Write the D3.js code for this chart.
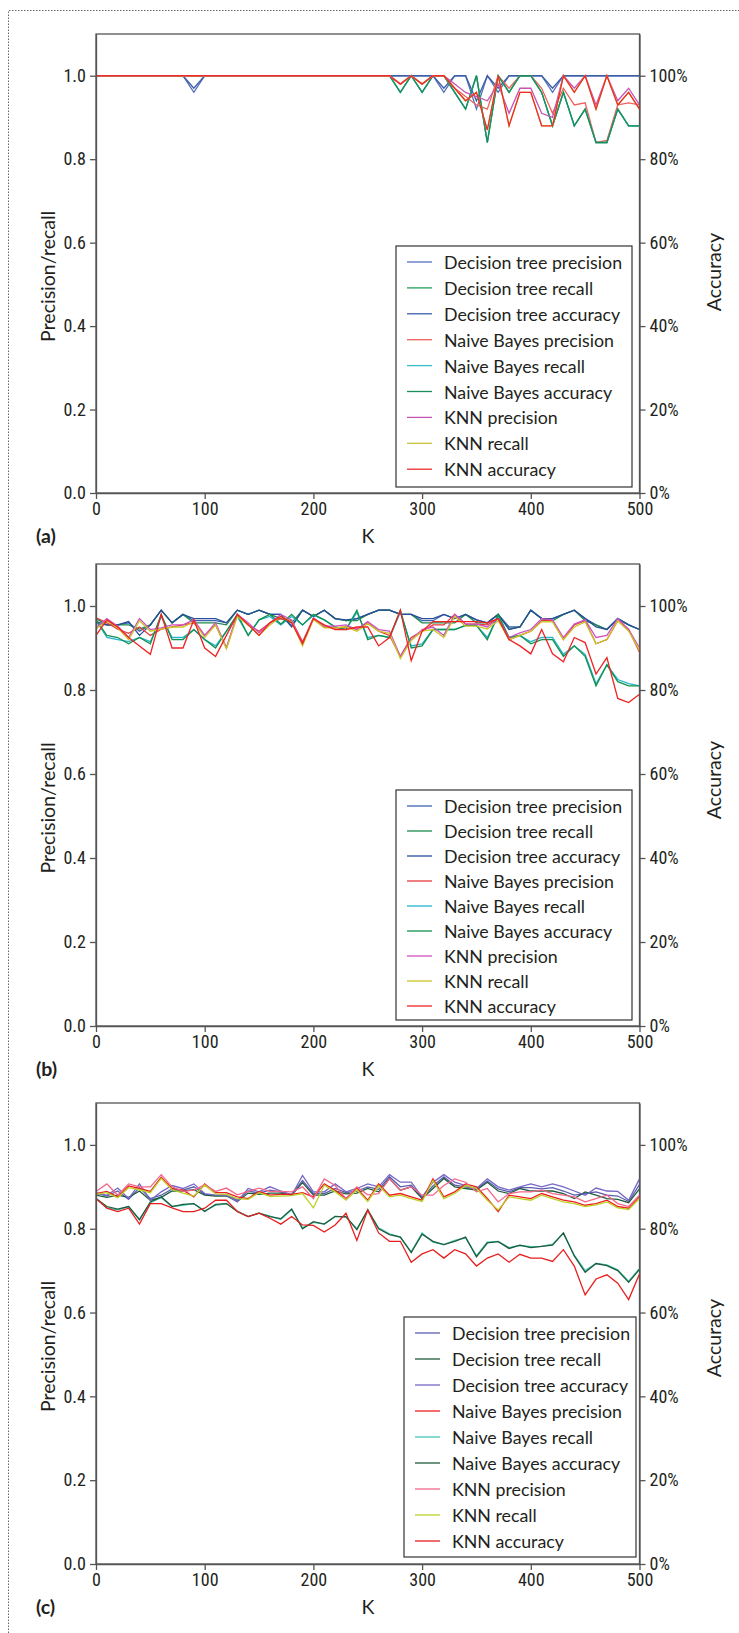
<!DOCTYPE html>
<html>
<head>
<meta charset="utf-8">
<script src="https://cdn.jsdelivr.net/npm/d3@7"></script>
<style>
  body { margin: 0; background: #fff; }
  .tick text { font-family: "Liberation Sans Narrow", "Roboto Condensed", "DejaVu Sans Condensed", sans-serif; font-size: 18px; fill: #231f20; }
  .label { font-family: Lato, "Open Sans", sans-serif; font-size: 19.5px; fill: #231f20; }
  .legend text { font-family: Lato, "Open Sans", sans-serif; font-size: 17.8px; fill: #231f20; }
</style>
</head>
<body>
<div id="chart"></div>
<script>
// K values (x axis), one point every 10
const kValues = [0, 10, 20, 30, 40, 50, 60, 70, 80, 90,
  100, 110, 120, 130, 140, 150, 160, 170, 180, 190,
  200, 210, 220, 230, 240, 250, 260, 270, 280, 290,
  300, 310, 320, 330, 340, 350, 360, 370, 380, 390,
  400, 410, 420, 430, 440, 450, 460, 470, 480, 490, 500];

const seriesNames = ["Decision tree precision", "Decision tree recall", "Decision tree accuracy",
  "Naive Bayes precision", "Naive Bayes recall", "Naive Bayes accuracy",
  "KNN precision", "KNN recall", "KNN accuracy"];

const xTicks = [0, 100, 200, 300, 400, 500];
const yTicks = [0, 0.2, 0.4, 0.6, 0.8, 1.0];

// ---- panel (a)
const aDtPrec = [1,1,1,1,1,1,1,1,1,0.96, 1,1,1,1,1,1,1,1,1,1, 1,1,1,1,1,1,1,1,1,1,
  1,1,0.96,1,1,0.92,1,0.96,1,1, 1,1,0.96,1,1,1,1,1,1,1, 1];
const aDtRec = [1,1,1,1,1,1,1,1,1,1, 1,1,1,1,1,1,1,1,1,1, 1,1,1,1,1,1,1,1,0.96,1,
  0.96,1,1,0.96,0.92,1,0.84,1,0.96,1, 1,0.96,0.88,0.96,0.88,0.92,0.84,0.84,0.92,0.88, 0.88];
const aDtAcc = [1,1,1,1,1,1,1,1,1,0.97, 1,1,1,1,1,1,1,1,1,1, 1,1,1,1,1,1,1,1,1,1,
  1,1,0.97,1,1,0.94,1,0.97,1,1, 1,1,0.97,1,1,1,1,1,1,1, 1];
const aNbPrec = [1,1,1,1,1,1,1,1,1,1, 1,1,1,1,1,1,1,1,1,1, 1,1,1,1,1,1,1,1,0.98,1,
  0.98,1,1,0.97,0.95,0.93,0.92,1,0.97,1, 1,0.97,0.91,0.97,0.93,0.935,0.84,0.845,0.93,0.935, 0.93];
const aNbRec = [1,1,1,1,1,1,1,1,1,1, 1,1,1,1,1,1,1,1,1,1, 1,1,1,1,1,1,1,1,0.96,1,
  0.96,1,1,0.96,0.92,1,0.84,1,0.96,1, 1,0.96,0.88,0.96,0.88,0.92,0.84,0.84,0.92,0.88, 0.88];
const aNbAcc = [1,1,1,1,1,1,1,1,1,1, 1,1,1,1,1,1,1,1,1,1, 1,1,1,1,1,1,1,1,0.96,1,
  0.96,1,1,0.96,0.92,1,0.84,1,0.96,1, 1,0.96,0.88,0.96,0.88,0.92,0.84,0.84,0.92,0.88, 0.88];
const aKnnPrec = [1,1,1,1,1,1,1,1,1,1, 1,1,1,1,1,1,1,1,1,1, 1,1,1,1,1,1,1,1,0.98,1,
  0.98,1,1,0.98,0.96,0.95,0.94,0.98,0.91,0.97, 0.97,0.91,0.90,1,0.97,1,0.93,1,0.94,0.97, 0.93];
const aKnnRec = [1,1,1,1,1,1,1,1,1,1, 1,1,1,1,1,1,1,1,1,1, 1,1,1,1,1,1,1,1,0.98,1,
  0.98,1,1,0.97,0.94,0.96,0.87,1,0.88,0.96, 0.96,0.88,0.88,1,0.96,1,0.92,1,0.93,0.96, 0.92];
const aKnnAcc = [1,1,1,1,1,1,1,1,1,1, 1,1,1,1,1,1,1,1,1,1, 1,1,1,1,1,1,1,1,0.98,1,
  0.98,1,1,0.97,0.94,0.96,0.87,1,0.88,0.96, 0.96,0.88,0.88,1,0.96,1,0.92,1,0.93,0.96, 0.92];

// ---- panel (b)
const bDtPrec = [0.958,0.955,0.955,0.96,0.94,0.955,0.99,0.96,0.98,0.965,
  0.965,0.965,0.96,0.99,0.98,0.99,0.98,0.98,0.953,0.99,
  0.975,0.99,0.97,0.965,0.97,0.98,0.99,0.99,0.98,0.98,
  0.965,0.965,0.98,0.97,0.98,0.967,0.96,0.98,0.95,0.95,
  0.99,0.97,0.97,0.98,0.99,0.97,0.955,0.944,0.97,0.955, 0.944];
const bDtRec = [0.97,0.955,0.955,0.955,0.945,0.955,0.99,0.96,0.98,0.96,
  0.96,0.96,0.955,0.99,0.98,0.99,0.98,0.97,0.96,0.99,
  0.975,0.99,0.97,0.965,0.965,0.98,0.99,0.99,0.98,0.98,
  0.96,0.96,0.96,0.96,0.98,0.96,0.96,0.98,0.945,0.95,
  0.99,0.97,0.965,0.98,0.99,0.965,0.955,0.944,0.97,0.955, 0.944];
const bDtAcc = [0.963,0.955,0.955,0.963,0.93,0.955,0.99,0.96,0.98,0.97,
  0.97,0.97,0.96,0.99,0.98,0.99,0.98,0.98,0.95,0.99,
  0.975,0.99,0.97,0.967,0.97,0.98,0.99,0.99,0.98,0.98,
  0.97,0.97,0.98,0.97,0.98,0.967,0.96,0.98,0.944,0.95,
  0.99,0.97,0.97,0.98,0.99,0.97,0.95,0.944,0.97,0.955, 0.944];
const bNbPrec = [0.972,0.96,0.945,0.935,0.95,0.93,0.945,0.95,0.955,0.96,
  0.93,0.955,0.90,0.98,0.955,0.94,0.96,0.97,0.965,0.915,
  0.97,0.95,0.948,0.95,0.945,0.96,0.94,0.93,0.88,0.925,
  0.94,0.955,0.955,0.98,0.957,0.957,0.955,0.97,0.92,0.93,
  0.94,0.965,0.965,0.92,0.955,0.965,0.91,0.92,0.965,0.944, 0.89];
const bNbRec = [0.967,0.925,0.92,0.915,0.925,0.915,0.975,0.925,0.925,0.944,
  0.92,0.905,0.94,0.975,0.93,0.967,0.975,0.955,0.975,0.955,
  0.978,0.967,0.95,0.944,0.985,0.925,0.93,0.925,0.985,0.905,
  0.91,0.944,0.944,0.944,0.954,0.954,0.925,0.975,0.925,0.93,
  0.915,0.925,0.925,0.885,0.905,0.885,0.815,0.86,0.825,0.815, 0.81];
const bNbAcc = [0.967,0.93,0.925,0.91,0.925,0.91,0.98,0.92,0.92,0.944,
  0.92,0.90,0.94,0.98,0.93,0.967,0.98,0.957,0.98,0.955,
  0.98,0.967,0.95,0.944,0.99,0.92,0.93,0.925,0.99,0.90,
  0.905,0.944,0.944,0.944,0.954,0.954,0.92,0.98,0.925,0.93,
  0.91,0.92,0.92,0.88,0.905,0.88,0.81,0.86,0.82,0.81, 0.81];
const bKnnPrec = [0.948,0.97,0.952,0.925,0.97,0.944,0.948,0.955,0.955,0.967,
  0.93,0.96,0.90,0.98,0.96,0.936,0.96,0.98,0.967,0.91,
  0.972,0.952,0.952,0.955,0.944,0.963,0.944,0.94,0.88,0.92,
  0.944,0.95,0.93,0.98,0.957,0.957,0.95,0.97,0.925,0.936,
  0.944,0.97,0.967,0.925,0.957,0.967,0.925,0.93,0.97,0.944, 0.90];
const bKnnRec = [0.945,0.965,0.948,0.92,0.965,0.94,0.945,0.95,0.95,0.962,
  0.925,0.955,0.898,0.975,0.955,0.93,0.955,0.975,0.962,0.905,
  0.968,0.948,0.948,0.95,0.94,0.958,0.94,0.935,0.875,0.918,
  0.94,0.944,0.925,0.975,0.952,0.952,0.945,0.965,0.92,0.93,
  0.94,0.963,0.962,0.92,0.95,0.962,0.91,0.92,0.965,0.94, 0.895];
const bKnnAcc = [0.93,0.967,0.95,0.925,0.905,0.885,0.98,0.90,0.90,0.967,
  0.90,0.88,0.93,0.98,0.955,0.93,0.96,0.975,0.96,0.91,
  0.97,0.955,0.944,0.944,0.95,0.95,0.905,0.925,0.99,0.87,
  0.94,0.963,0.963,0.963,0.963,0.963,0.96,0.97,0.92,0.905,
  0.886,0.944,0.886,0.867,0.925,0.913,0.838,0.877,0.78,0.77, 0.79];

// ---- panel (c)
const cDtPrec = [0.886,0.878,0.89,0.87,0.898,0.872,0.88,0.895,0.892,0.9,
  0.882,0.879,0.882,0.868,0.89,0.885,0.892,0.888,0.882,0.915,
  0.884,0.884,0.896,0.886,0.89,0.9,0.894,0.924,0.9,0.904,
  0.874,0.902,0.924,0.904,0.9,0.894,0.914,0.895,0.888,0.898,
  0.898,0.895,0.898,0.89,0.88,0.884,0.888,0.88,0.878,0.865, 0.905];
const cDtRec = [0.88,0.875,0.88,0.875,0.89,0.868,0.875,0.89,0.89,0.893,
  0.88,0.878,0.878,0.865,0.885,0.882,0.885,0.885,0.88,0.91,
  0.88,0.88,0.89,0.883,0.885,0.896,0.888,0.92,0.892,0.90,
  0.872,0.896,0.92,0.90,0.896,0.892,0.911,0.89,0.884,0.896,
  0.89,0.89,0.89,0.884,0.872,0.888,0.88,0.872,0.87,0.862, 0.895];
const cDtAcc = [0.884,0.88,0.897,0.872,0.907,0.868,0.888,0.903,0.896,0.907,
  0.884,0.88,0.88,0.864,0.896,0.888,0.90,0.89,0.88,0.927,
  0.888,0.888,0.907,0.888,0.896,0.907,0.90,0.929,0.911,0.911,
  0.876,0.911,0.929,0.911,0.903,0.896,0.919,0.90,0.892,0.90,
  0.907,0.90,0.907,0.90,0.89,0.88,0.897,0.89,0.889,0.868, 0.919];
const cNbPrec = [0.884,0.889,0.876,0.902,0.896,0.889,0.923,0.896,0.892,0.876,
  0.907,0.886,0.886,0.876,0.872,0.889,0.88,0.882,0.882,0.886,
  0.876,0.907,0.892,0.872,0.897,0.868,0.907,0.88,0.884,0.876,
  0.868,0.919,0.876,0.888,0.907,0.90,0.872,0.841,0.88,0.876,
  0.872,0.884,0.876,0.868,0.864,0.856,0.86,0.868,0.853,0.849, 0.876];
const cNbRec = [0.872,0.85,0.845,0.853,0.823,0.862,0.874,0.853,0.856,0.86,
  0.843,0.856,0.86,0.842,0.829,0.837,0.83,0.822,0.845,0.802,
  0.815,0.811,0.83,0.827,0.8,0.843,0.802,0.788,0.78,0.745,
  0.79,0.768,0.762,0.772,0.778,0.736,0.768,0.77,0.755,0.76,
  0.757,0.758,0.763,0.789,0.737,0.70,0.717,0.714,0.702,0.675, 0.705];
const cNbAcc = [0.872,0.853,0.847,0.853,0.821,0.864,0.876,0.853,0.858,0.86,
  0.841,0.858,0.86,0.841,0.829,0.837,0.829,0.824,0.847,0.80,
  0.817,0.811,0.829,0.829,0.798,0.845,0.80,0.786,0.78,0.743,
  0.787,0.77,0.762,0.77,0.78,0.733,0.766,0.769,0.753,0.761,
  0.755,0.758,0.761,0.79,0.735,0.696,0.717,0.712,0.70,0.672, 0.703];
const cKnnPrec = [0.889,0.907,0.88,0.907,0.90,0.90,0.929,0.90,0.889,0.892,
  0.905,0.889,0.897,0.881,0.889,0.897,0.889,0.889,0.888,0.90,
  0.872,0.919,0.903,0.872,0.90,0.881,0.884,0.919,0.892,0.90,
  0.88,0.88,0.903,0.919,0.911,0.888,0.896,0.864,0.884,0.888,
  0.888,0.892,0.884,0.88,0.876,0.864,0.872,0.88,0.86,0.853, 0.88];
const cKnnRec = [0.882,0.886,0.874,0.898,0.893,0.886,0.92,0.893,0.885,0.878,
  0.904,0.883,0.882,0.872,0.87,0.886,0.877,0.878,0.879,0.884,
  0.85,0.904,0.888,0.868,0.893,0.865,0.903,0.876,0.88,0.872,
  0.865,0.915,0.872,0.884,0.903,0.896,0.868,0.845,0.876,0.872,
  0.868,0.88,0.872,0.864,0.86,0.853,0.857,0.864,0.85,0.846, 0.872];
const cKnnAcc = [0.872,0.849,0.841,0.849,0.811,0.86,0.86,0.85,0.841,0.841,
  0.849,0.868,0.868,0.841,0.829,0.837,0.825,0.811,0.829,0.809,
  0.808,0.792,0.809,0.837,0.772,0.845,0.79,0.77,0.77,0.72,
  0.74,0.75,0.73,0.75,0.74,0.711,0.73,0.74,0.72,0.739,
  0.73,0.73,0.722,0.75,0.711,0.642,0.68,0.69,0.67,0.631, 0.692];

// colours per panel, in the same order as seriesNames
const colorsA = ["#5672bd", "#24a05e", "#3d5fa8", "#f0625a", "#3bbfc4", "#1c8d58", "#c455b5", "#c9c23a", "#ef2b2b"];
const colorsB = ["#3b63b0", "#1d8c4c", "#284d99", "#e8393a", "#25b3cf", "#12924d", "#cf52c0", "#c9c626", "#f02222"];
const colorsC = ["#5a5cb0", "#1f5c3c", "#7566c6", "#f01e1e", "#43c6b5", "#1f5c3c", "#f3668a", "#bcd126", "#e81e1e"];

const width = 739, height = 1633;

const svg = d3.select("#chart")
  .append("svg")
  .attr("width", width)
  .attr("height", height)
  .style("display", "block");

// dotted frame round the figure
svg.append("path")
  .attr("d", "M8.5,1633 V10.5 H739")
  .attr("fill", "none")
  .attr("stroke", "#666")
  .attr("stroke-width", 1)
  .attr("stroke-dasharray", "1.5,1.5");

const x = d3.scaleLinear().domain([0, 500]).range([96, 639.5]);

const panels = [
  { tag: "(a)", top: 34, zero: 493, legX: 396, legY: 246, legW: 236, legH: 241, rowH: 25.9, accY: 272,
    series: [aDtPrec, aDtRec, aDtAcc, aNbPrec, aNbRec, aNbAcc, aKnnPrec, aKnnRec, aKnnAcc], colors: colorsA },
  { tag: "(b)", top: 564, zero: 1026, legX: 396, legY: 790, legW: 236, legH: 230, rowH: 25, accY: 780,
    series: [bDtPrec, bDtRec, bDtAcc, bNbPrec, bNbRec, bNbAcc, bKnnPrec, bKnnRec, bKnnAcc], colors: colorsB },
  { tag: "(c)", top: 1103, zero: 1564, legX: 404, legY: 1317, legW: 232, legH: 240, rowH: 26, accY: 1338,
    series: [cDtPrec, cDtRec, cDtAcc, cNbPrec, cNbRec, cNbAcc, cKnnPrec, cKnnRec, cKnnAcc], colors: colorsC }
];

panels.forEach(function(p) {
  const g = svg.append("g");

  const y = d3.scaleLinear().domain([0, 1.1]).range([p.zero, p.top]);

  // box round the plot
  g.append("rect")
    .attr("x", x(0))
    .attr("y", p.top)
    .attr("width", x(500) - x(0))
    .attr("height", p.zero - p.top)
    .attr("fill", "none")
    .attr("stroke", "#555")
    .attr("stroke-width", 1.3);

  // lines
  const line = d3.line()
    .x((d, i) => x(kValues[i]))
    .y(d => y(d));

  p.series.forEach(function(values, i) {
    g.append("path")
      .datum(values)
      .attr("d", line)
      .attr("fill", "none")
      .attr("stroke", p.colors[i])
      .attr("stroke-width", 1.3);
  });

  // axes
  const styleAxis = function(sel) {
    sel.select(".domain").attr("stroke", "#555").attr("stroke-width", 1.3);
    sel.selectAll(".tick line").attr("stroke", "#555").attr("stroke-width", 1.3);
  };

  g.append("g")
    .attr("transform", `translate(0,${p.zero})`)
    .call(d3.axisBottom(x).tickValues(xTicks).tickSize(6).tickSizeOuter(0).tickPadding(3))
    .call(styleAxis);

  g.append("g")
    .attr("transform", `translate(${x(0)},0)`)
    .call(d3.axisLeft(y).tickValues(yTicks).tickFormat(d3.format(".1f")).tickSize(6).tickSizeOuter(0).tickPadding(4))
    .call(styleAxis);

  g.append("g")
    .attr("transform", `translate(${x(500)},0)`)
    .call(d3.axisRight(y).tickValues(yTicks).tickFormat(d3.format(".0%")).tickSize(6).tickSizeOuter(0).tickPadding(4))
    .call(styleAxis);

  // axis titles
  g.append("text")
    .attr("class", "label")
    .attr("transform", `translate(47,${(y(0) + y(1)) / 2 - 8}) rotate(-90)`)
    .attr("text-anchor", "middle")
    .attr("dominant-baseline", "central")
    .text("Precision/recall");

  g.append("text")
    .attr("class", "label")
    .attr("transform", `translate(713,${p.accY}) rotate(-90)`)
    .attr("text-anchor", "middle")
    .attr("dominant-baseline", "central")
    .text("Accuracy");

  g.append("text")
    .attr("class", "label")
    .attr("x", 368)
    .attr("y", p.zero + 42)
    .attr("text-anchor", "middle")
    .attr("dominant-baseline", "central")
    .text("K");

  g.append("text")
    .attr("class", "label")
    .attr("x", 36)
    .attr("y", p.zero + 42)
    .attr("dominant-baseline", "central")
    .style("font-weight", "bold")
    .text(p.tag);

  // legend
  const legend = g.append("g").attr("class", "legend");
  legend.append("rect")
    .attr("x", p.legX)
    .attr("y", p.legY)
    .attr("width", p.legW)
    .attr("height", p.legH)
    .attr("fill", "#fff")
    .attr("stroke", "#333")
    .attr("stroke-width", 1.2);

  const rows = legend.selectAll(".row")
    .data(seriesNames)
    .enter().append("g")
    .attr("class", "row")
    .attr("transform", (d, i) => `translate(${p.legX},${p.legY + 16 + i * p.rowH})`);

  rows.append("line")
    .attr("x1", 11)
    .attr("x2", 36)
    .attr("stroke", (d, i) => p.colors[i])
    .attr("stroke-width", 1.3);

  rows.append("text")
    .attr("x", 48)
    .attr("dominant-baseline", "central")
    .text(d => d);
});
</script>
</body>
</html>
